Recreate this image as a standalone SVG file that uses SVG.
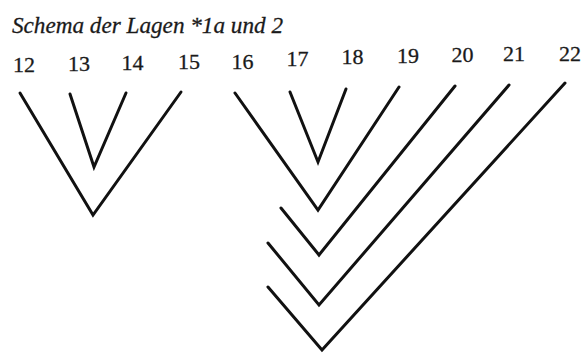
<svg xmlns="http://www.w3.org/2000/svg" width="587" height="356" viewBox="0 0 587 356">
<style>
.num{font-family:"Liberation Serif","Times New Roman",serif;font-size:22px;fill:#1a1a1a;stroke:#1a1a1a;stroke-width:0.3;text-anchor:middle}
.title{font-family:"Liberation Serif","Times New Roman",serif;font-style:italic;font-size:24px;fill:#1a1a1a;stroke:#1a1a1a;stroke-width:0.3}
.v{fill:none;stroke:#111;stroke-width:3;stroke-linecap:round;stroke-linejoin:miter}
</style>
<rect width="587" height="356" fill="#fff"/>
<text class="title" x="12" y="33" textLength="271" lengthAdjust="spacingAndGlyphs">Schema der Lagen *1a und 2</text>
<g id="labels">
<g id="n12"><text class="num" x="24" y="72">12</text></g>
<g id="n13"><text class="num" x="79" y="71">13</text></g>
<g id="n14"><text class="num" x="132.5" y="70">14</text></g>
<g id="n15"><text class="num" x="189" y="69">15</text></g>
<g id="n16"><text class="num" x="242.5" y="69">16</text></g>
<g id="n17"><text class="num" x="297.5" y="66">17</text></g>
<g id="n18"><text class="num" x="352.5" y="64">18</text></g>
<g id="n19"><text class="num" x="408" y="63">19</text></g>
<g id="n20"><text class="num" x="462.5" y="62">20</text></g>
<g id="n21"><text class="num" x="514" y="61">21</text></g>
<g id="n22"><text class="num" x="570" y="61">22</text></g>
</g>
<g id="connectors">
<polyline class="v" points="20,93 93,215 181,92"/>
<polyline class="v" points="70,94 94,167 126,93"/>
<polyline class="v" points="290,92 318,162 346,89"/>
<polyline class="v" points="235,93 318,210 399,87"/>
<polyline class="v" points="281,208 319,255 455,86"/>
<polyline class="v" points="268,243 319,305 509,85"/>
<polyline class="v" points="268,287 322,350 565,83"/>
</g>
</svg>
